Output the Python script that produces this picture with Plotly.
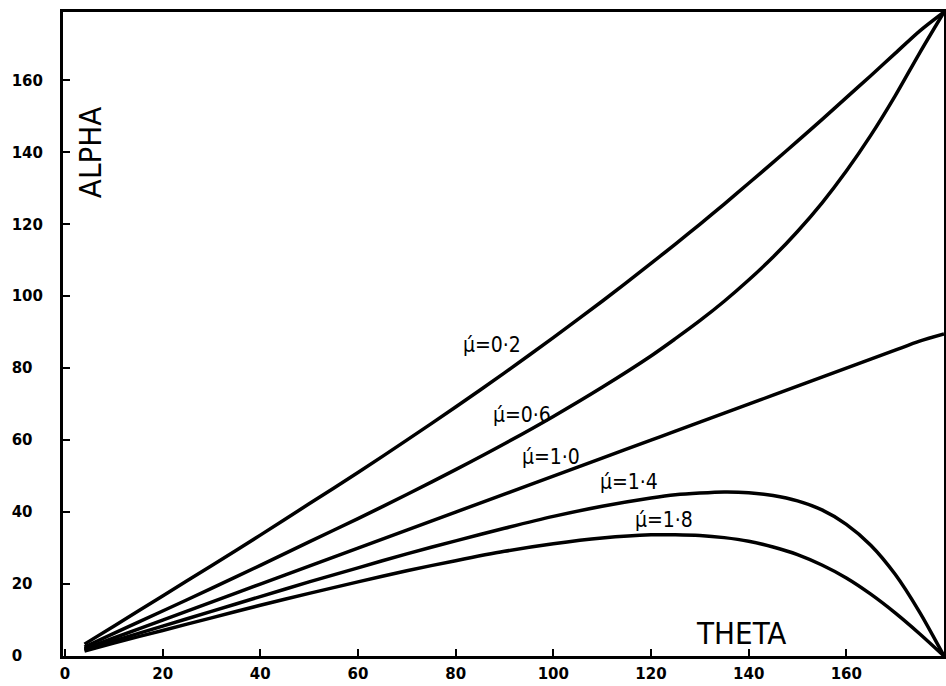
import plotly.graph_objects as go

# theta (degrees) sample points
theta = [4, 10, 20, 30, 40, 50, 60, 70, 80, 90, 100, 110, 120, 125, 130, 135, 140, 145, 150, 155, 160, 165, 170, 175, 180]

# alpha values for each mu'
alpha_02 = [3.3, 8.3, 16.7, 25.1, 33.6, 42.3, 51.0, 60.0, 69.2, 78.7, 88.5, 98.6, 109.1, 114.5, 120.0, 125.6, 131.4, 137.2, 143.1, 149.1, 155.2, 161.3, 167.5, 173.7, 179]
alpha_06 = [2.5, 6.3, 12.5, 18.8, 25.2, 31.7, 38.2, 44.9, 51.8, 59.0, 66.6, 74.7, 83.4, 88.2, 93.2, 98.6, 104.5, 110.9, 118.0, 125.9, 134.8, 144.7, 155.7, 167.6, 179]
alpha_10 = [2.0, 5.0, 10.0, 15.0, 20.0, 25.0, 30.0, 35.0, 40.0, 45.0, 50.0, 55.0, 60.0, 62.5, 65.0, 67.5, 70.0, 72.5, 75.0, 77.5, 80.0, 82.5, 85.0, 87.5, 89.5]
alpha_14 = [1.7, 4.2, 8.3, 12.4, 16.5, 20.6, 24.5, 28.4, 32.0, 35.5, 38.8, 41.6, 43.9, 44.8, 45.3, 45.6, 45.4, 44.6, 43.1, 40.6, 36.6, 30.8, 22.7, 12.2, 0]
alpha_18 = [1.4, 3.6, 7.1, 10.6, 14.1, 17.4, 20.6, 23.7, 26.5, 29.1, 31.2, 32.8, 33.7, 33.7, 33.5, 32.9, 31.9, 30.3, 28.2, 25.3, 21.7, 17.2, 12.0, 6.2, 0]

series = [alpha_02, alpha_06, alpha_10, alpha_14, alpha_18]

# curve labels and their positions (theta, alpha)
labels = ["\u03bc\u0301=0\u00b72", "\u03bc\u0301=0\u00b76", "\u03bc\u0301=1\u00b70", "\u03bc\u0301=1\u00b74", "\u03bc\u0301=1\u00b78"]
label_theta = [87.5, 93.5, 99.6, 115.5, 122.6]
label_alpha = [86.4, 67.0, 55.3, 48.3, 37.8]

x_ticks = [0, 20, 40, 60, 80, 100, 120, 140, 160]
y_ticks = [0, 20, 40, 60, 80, 100, 120, 140, 160]
fs = "\u2007"
y_ticktext = [str(v) + fs * (3 - len(str(v))) for v in y_ticks]

FONT = "DejaVu Sans Condensed, DejaVu Sans, sans-serif"

fig = go.Figure()
for s in series:
    fig.add_trace(go.Scatter(
        x=theta, y=s, mode="lines",
        line=dict(color="black", width=3.5, shape="spline", smoothing=0.8),
        showlegend=False, hoverinfo="skip"))

for t, tx, ty in zip(labels, label_theta, label_alpha):
    fig.add_annotation(x=tx, y=ty, text=t, showarrow=False,
                       font=dict(family=FONT, size=21, color="black"))

fig.add_annotation(x=5.1, y=140, text="ALPHA", textangle=-90, showarrow=False,
                   font=dict(family=FONT, size=31, color="black"))
fig.add_annotation(x=138.5, y=6.4, text="THETA", showarrow=False,
                   font=dict(family=FONT, size=31, color="black"))

fig.update_layout(
    width=946, height=686,
    margin=dict(l=63, r=2, t=12, b=30, autoexpand=False),
    paper_bgcolor="white", plot_bgcolor="white",
    font=dict(family="DejaVu Sans, sans-serif", color="black"),
)
fig.update_xaxes(
    range=[-0.4, 180], tickmode="array", tickvals=x_ticks,
    ticktext=[str(v) for v in x_ticks],
    ticks="inside", ticklen=7, tickwidth=2, tickcolor="black",
    showline=True, linewidth=3, linecolor="black", mirror=True,
    showgrid=False, zeroline=False, automargin=False,
    tickfont=dict(family="DejaVu Sans, sans-serif", size=15, color="black", weight="bold"),
    ticklabelstandoff=2,
)
fig.update_yaxes(
    range=[0, 179], tickmode="array", tickvals=y_ticks, ticktext=y_ticktext,
    ticks="inside", ticklen=7, tickwidth=2, tickcolor="black",
    showline=True, linewidth=3, linecolor="black", mirror=True,
    showgrid=False, zeroline=False, automargin=False,
    tickfont=dict(family="DejaVu Sans, sans-serif", size=15, color="black", weight="bold"),
    ticklabelstandoff=14,
)

fig.write_html("out.html",
               config={"displayModeBar": False},
               post_script="document.body.style.margin='0';document.body.style.overflow='hidden';")
